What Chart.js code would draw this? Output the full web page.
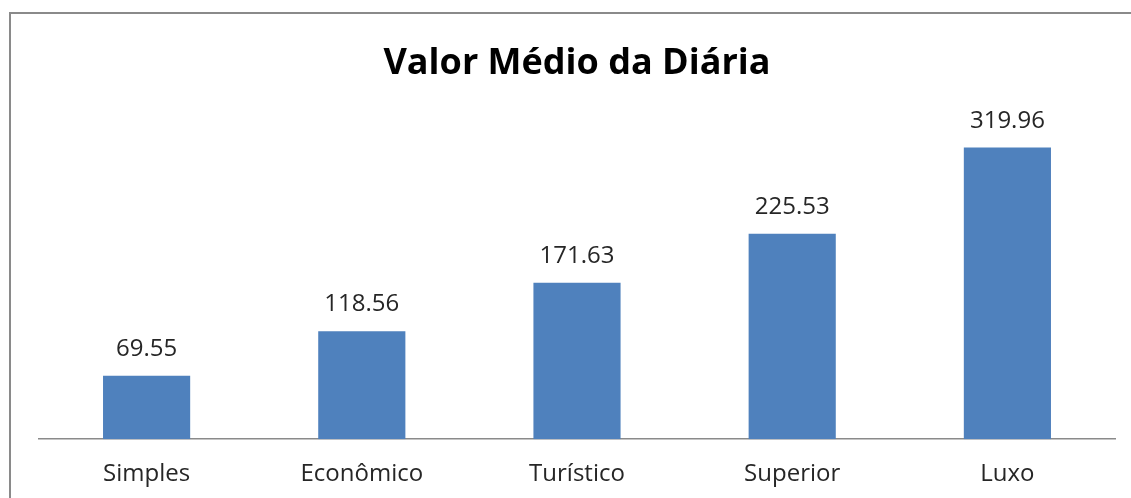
<!DOCTYPE html>
<html lang="pt">
<head>
<meta charset="utf-8">
<title>Valor Médio da Diária</title>
<script src="https://cdn.jsdelivr.net/npm/chart.js@4/dist/chart.umd.min.js"></script>
<style>
  html, body { margin: 0; padding: 0; background: #fff; overflow: hidden; }
  #wrap { position: relative; width: 1131px; height: 498px; }
  /* moldura cinza do gráfico (cortada à direita e embaixo) */
  .frame {
    position: absolute; left: 9px; top: 12px;
    width: 1200px; height: 600px;
    border: 2px solid #8a8a8a; box-sizing: border-box;
  }
  canvas { position: absolute; left: 0; top: 0; }
</style>
</head>
<body>
<div id="wrap">
  <div class="frame"></div>
  <canvas id="chart" width="1131" height="498"></canvas>
</div>
<script>
'use strict';

// ── Dados ─────────────────────────────────────────────────────
const categorias = ['Simples', 'Econômico', 'Turístico', 'Superior', 'Luxo'];
const valores    = [69.55, 118.56, 171.63, 225.53, 319.96];
const eixoMax    = 350;

// ── Rótulos de dados acima das barras ─────────────────────────
const rotulosPlugin = {
  id: 'rotulos',
  afterDatasetsDraw(chart) {
    const { ctx } = chart;
    const meta = chart.getDatasetMeta(0);
    ctx.save();
    ctx.font = '24px "Open Sans"';
    ctx.fillStyle = '#262626';
    ctx.textAlign = 'center';
    ctx.textBaseline = 'alphabetic';
    meta.data.forEach((bar, i) => {
      ctx.fillText(valores[i].toFixed(2), bar.x, bar.y - 20);
    });
    ctx.restore();
  }
};

new Chart(document.getElementById('chart'), {
  type: 'bar',
  data: {
    labels: categorias,
    datasets: [{
      data: valores,
      backgroundColor: '#4f81bd',
      borderWidth: 0,
      categoryPercentage: 1,
      barPercentage: 0.405
    }]
  },
  options: {
    responsive: false,
    animation: false,
    layout: { padding: { left: 39, right: 16, top: 0, bottom: -12 } },
    plugins: {
      legend: { display: false },
      tooltip: { enabled: false },
      title: {
        display: true,
        text: 'Valor Médio da Diária',
        color: '#000',
        font: { family: '"Open Sans"', size: 36, weight: 'bold', lineHeight: 1.2 },
        padding: { top: 42, bottom: 35 }
      }
    },
    scales: {
      x: {
        grid: { display: false, drawTicks: false },
        border: { display: true, color: '#8a8a8a', width: 1.5 },
        ticks: {
          color: '#262626',
          padding: 21,
          font: { family: '"Open Sans"', size: 24 }
        }
      },
      y: {
        display: false,
        min: 0,
        max: eixoMax
      }
    }
  },
  plugins: [rotulosPlugin]
});
</script>
</body>
</html>
